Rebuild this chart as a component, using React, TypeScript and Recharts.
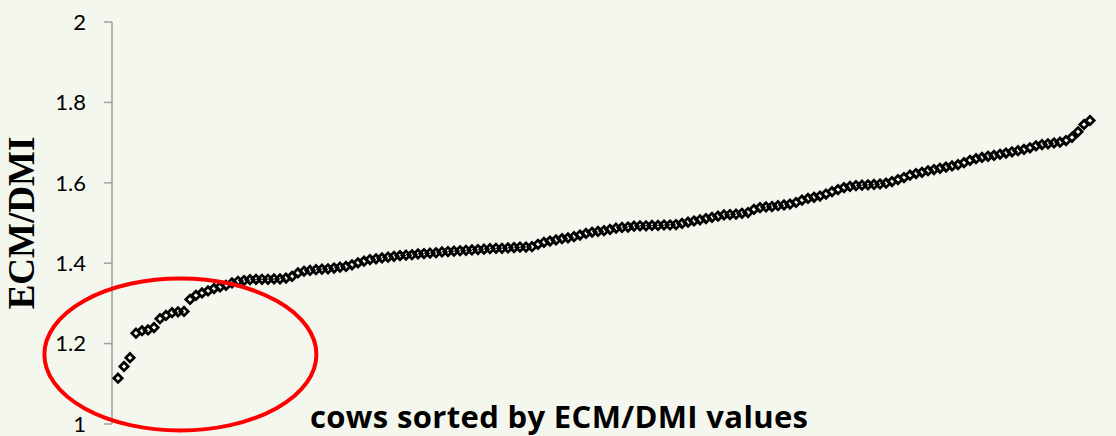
import React from 'react';
import { ScatterChart, Scatter, XAxis, YAxis, ReferenceDot } from 'recharts';

// ECM/DMI values of cows, sorted ascending (cow rank 1..N)
const ecmDmiValues: number[] = [
  1.114, 1.143, 1.165, 1.226, 1.232, 1.234, 1.24, 1.262, 1.27, 1.277,
  1.279, 1.28, 1.31, 1.32, 1.326, 1.331, 1.337, 1.341, 1.345, 1.351,
  1.355, 1.357, 1.359, 1.36, 1.36, 1.36, 1.361, 1.361, 1.363, 1.367,
  1.376, 1.38, 1.382, 1.384, 1.385, 1.386, 1.388, 1.39, 1.392, 1.396,
  1.401, 1.405, 1.409, 1.411, 1.413, 1.415, 1.417, 1.419, 1.42, 1.421,
  1.423, 1.424, 1.425, 1.426, 1.428, 1.429, 1.43, 1.431, 1.432, 1.433,
  1.434, 1.435, 1.436, 1.437, 1.437, 1.438, 1.439, 1.44, 1.44, 1.441,
  1.447, 1.452, 1.455, 1.458, 1.461, 1.463, 1.466, 1.47, 1.474, 1.477,
  1.479, 1.481, 1.484, 1.487, 1.489, 1.49, 1.492, 1.493, 1.493, 1.494,
  1.494, 1.495, 1.495, 1.496, 1.499, 1.502, 1.505, 1.508, 1.511, 1.514,
  1.517, 1.52, 1.521, 1.522, 1.524, 1.526, 1.534, 1.538, 1.54, 1.541,
  1.543, 1.545, 1.547, 1.551, 1.557, 1.561, 1.564, 1.567, 1.572, 1.578,
  1.583, 1.588, 1.591, 1.593, 1.594, 1.595, 1.596, 1.597, 1.599, 1.603,
  1.608, 1.613, 1.619, 1.623, 1.626, 1.63, 1.633, 1.636, 1.639, 1.642,
  1.645, 1.65, 1.656, 1.66, 1.663, 1.666, 1.668, 1.671, 1.674, 1.677,
  1.68, 1.683, 1.687, 1.692, 1.695, 1.697, 1.699, 1.701, 1.705, 1.713,
  1.727, 1.745, 1.755,
];

const yTicks: number[] = [1, 1.2, 1.4, 1.6, 1.8, 2];
const xDomain: [number, number] = [0, 167];
const yDomain: [number, number] = [1, 2];

// highlighted region (centre in data units)
const highlightCenterRank = 11.4;
const highlightCenterValue = 1.173;

const yAxisTitle = 'ECM/DMI';
const xAxisTitle = 'cows sorted by ECM/DMI values';

const data = ecmDmiValues.map((v, i) => ({ rank: i + 1, value: v }));

const Diamond = (props: any) => {
  const { cx, cy } = props;
  if (cx == null || cy == null) return null;
  const h = 4.2;
  return (
    <path
      d={`M${cx},${cy - h} L${cx + h},${cy} L${cx},${cy + h} L${cx - h},${cy} Z`}
      fill="none"
      stroke="#000"
      strokeWidth={2.7}
    />
  );
};

const EllipseShape = (props: any) => {
  const { cx, cy } = props;
  if (cx == null || cy == null) return null;
  return <ellipse cx={cx} cy={cy} rx={136} ry={76} fill="none" stroke="#FF0000" strokeWidth={4} />;
};

const YTitle = (props: any) => {
  const vb = props.viewBox || {};
  const x = (vb.x ?? 0) + 21;
  const y = (vb.y ?? 0) + (vb.height ?? 0) / 2;
  return (
    <text
      x={x}
      y={y}
      transform={`rotate(-90 ${x} ${y})`}
      textAnchor="middle"
      dominantBaseline="central"
      fontFamily="'Liberation Serif', 'Times New Roman', serif"
      fontWeight="bold"
      fontSize={37}
      fill="#000"
    >
      {yAxisTitle}
    </text>
  );
};

const XTitle = (props: any) => {
  const vb = props.viewBox || {};
  const x = (vb.x ?? 0) + 447;
  const y = (vb.y ?? 0) + 4;
  return (
    <text
      x={x}
      y={y}
      textAnchor="middle"
      fontFamily="'Open Sans', sans-serif"
      fontWeight="bold"
      fontSize={31}
      textLength={498}
      fill="#000"
    >
      {xAxisTitle}
    </text>
  );
};

export default function App() {
  return (
    <div
      style={{
        position: 'absolute',
        left: 0,
        top: 0,
        width: 1116,
        height: 436,
        background: '#F4F7EE',
        overflow: 'hidden',
      }}
    >
      <ScatterChart width={1116} height={436} margin={{ top: 22, right: 2, bottom: 0, left: 0 }}>
        <XAxis
          type="number"
          dataKey="rank"
          domain={xDomain}
          axisLine={false}
          tickLine={false}
          tick={false}
          height={12}
          label={<XTitle />}
        />
        <YAxis
          type="number"
          dataKey="value"
          domain={yDomain}
          ticks={yTicks}
          interval={0}
          width={112}
          tickSize={8}
          tickMargin={18}
          axisLine={{ stroke: '#A0A0A0', strokeWidth: 1.5 }}
          tickLine={{ stroke: '#A0A0A0', strokeWidth: 1.5 }}
          tick={{ fill: '#000', fontSize: 22, fontFamily: 'Lato, sans-serif' }}
          tickFormatter={(v: number) => String(Math.round(v * 10) / 10)}
          label={<YTitle />}
        />
        <Scatter data={data} shape={<Diamond />} isAnimationActive={false} />
        <ReferenceDot
          x={highlightCenterRank}
          y={highlightCenterValue}
          ifOverflow="visible"
          shape={<EllipseShape />}
        />
      </ScatterChart>
    </div>
  );
}
